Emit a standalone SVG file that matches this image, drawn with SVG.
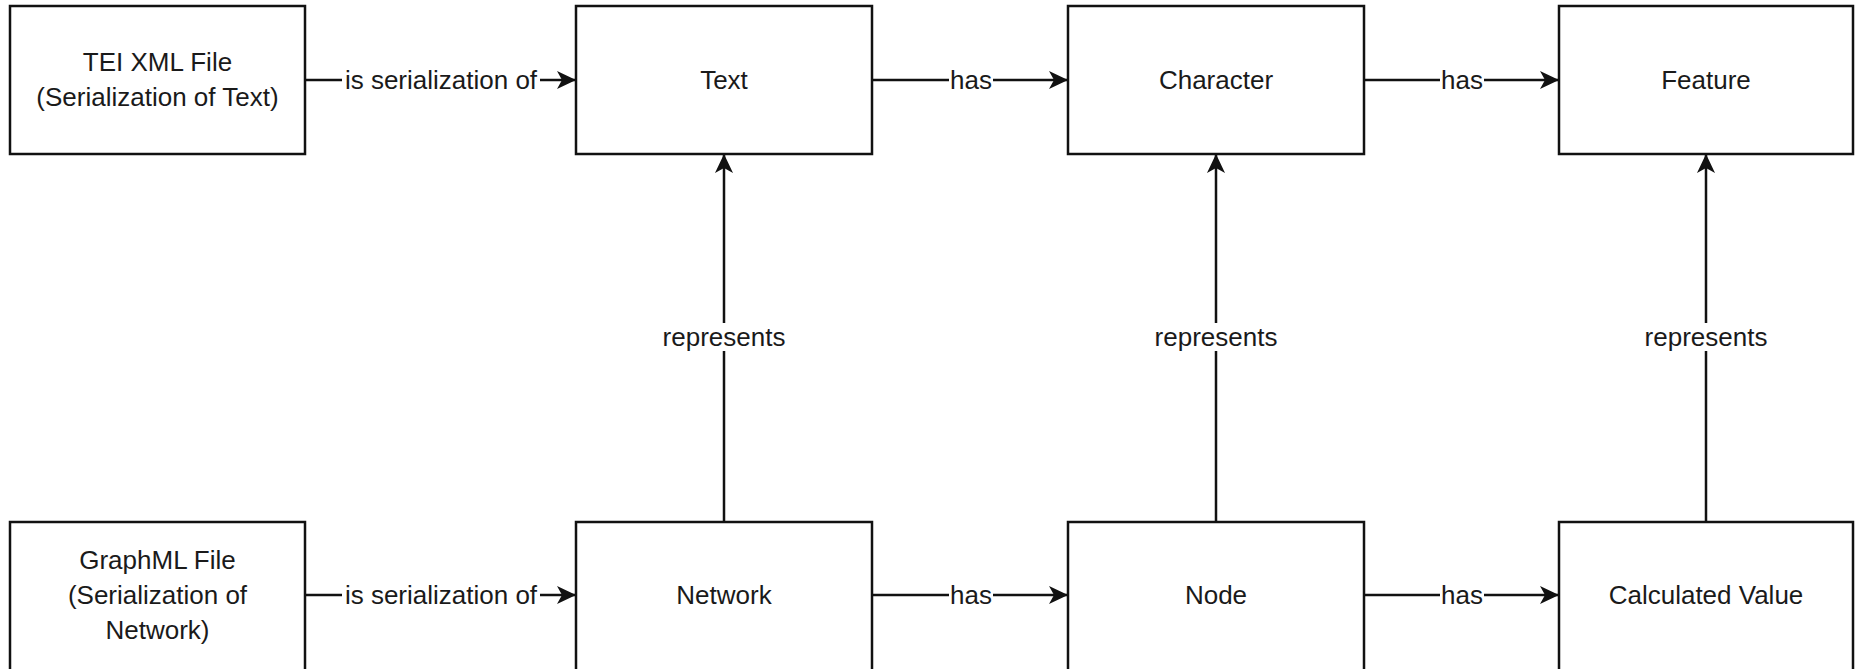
<svg xmlns="http://www.w3.org/2000/svg" width="1855" height="669" viewBox="0 0 1855 669">
<style>
.box{fill:#ffffff;stroke:#111111;stroke-width:2.5}
.t{font-family:"Liberation Sans",Arial,Helvetica,sans-serif;font-size:26px;fill:#1a1a1a;text-anchor:middle}
.edge{stroke:#111111;stroke-width:2.5;fill:none}
.lbg{fill:#ffffff}
</style>
<defs>
<marker id="arr" markerUnits="userSpaceOnUse" markerWidth="19" markerHeight="18" refX="18" refY="9" orient="auto">
<path d="M0,0 L19,9 L0,18 L5,9 Z" fill="#111111"/>
</marker>
</defs>
<rect width="1855" height="669" fill="#ffffff"/>
<g id="connectors">
<path class="edge" d="M305,80 L575,80" marker-end="url(#arr)"/>
<path class="edge" d="M872,80 L1067,80" marker-end="url(#arr)"/>
<path class="edge" d="M1364,80 L1558,80" marker-end="url(#arr)"/>
<path class="edge" d="M305,595 L575,595" marker-end="url(#arr)"/>
<path class="edge" d="M872,595 L1067,595" marker-end="url(#arr)"/>
<path class="edge" d="M1364,595 L1558,595" marker-end="url(#arr)"/>
<path class="edge" d="M724,522 L724,155" marker-end="url(#arr)"/>
<path class="edge" d="M1216,522 L1216,155" marker-end="url(#arr)"/>
<path class="edge" d="M1706,522 L1706,155" marker-end="url(#arr)"/>
<rect class="lbg" x="342" y="66" width="198" height="28"/>
<text class="t" x="441" y="89">is serialization of</text>
<rect class="lbg" x="949" y="66" width="44" height="28"/>
<text class="t" x="971" y="89">has</text>
<rect class="lbg" x="1440" y="66" width="44" height="28"/>
<text class="t" x="1462" y="89">has</text>
<rect class="lbg" x="342" y="581" width="198" height="28"/>
<text class="t" x="441" y="604">is serialization of</text>
<rect class="lbg" x="949" y="581" width="44" height="28"/>
<text class="t" x="971" y="604">has</text>
<rect class="lbg" x="1440" y="581" width="44" height="28"/>
<text class="t" x="1462" y="604">has</text>
<rect class="lbg" x="660" y="323" width="128" height="28"/>
<text class="t" x="724" y="346">represents</text>
<rect class="lbg" x="1152" y="323" width="128" height="28"/>
<text class="t" x="1216" y="346">represents</text>
<rect class="lbg" x="1642" y="323" width="128" height="28"/>
<text class="t" x="1706" y="346">represents</text>
</g>
<g id="tei">
<rect class="box" x="10" y="6" width="295" height="148"/>
<text class="t" x="157.5" y="71">TEI XML File</text>
<text class="t" x="157.5" y="106">(Serialization of Text)</text>
</g>
<g id="text">
<rect class="box" x="576" y="6" width="296" height="148"/>
<text class="t" x="724" y="89">Text</text>
</g>
<g id="character">
<rect class="box" x="1068" y="6" width="296" height="148"/>
<text class="t" x="1216" y="89">Character</text>
</g>
<g id="feature">
<rect class="box" x="1559" y="6" width="294" height="148"/>
<text class="t" x="1706" y="89">Feature</text>
</g>
<g id="graphml">
<rect class="box" x="10" y="522" width="295" height="150"/>
<text class="t" x="157.5" y="569">GraphML File</text>
<text class="t" x="157.5" y="604">(Serialization of</text>
<text class="t" x="157.5" y="639">Network)</text>
</g>
<g id="network">
<rect class="box" x="576" y="522" width="296" height="150"/>
<text class="t" x="724" y="604">Network</text>
</g>
<g id="node">
<rect class="box" x="1068" y="522" width="296" height="150"/>
<text class="t" x="1216" y="604">Node</text>
</g>
<g id="calculated">
<rect class="box" x="1559" y="522" width="294" height="150"/>
<text class="t" x="1706" y="604">Calculated Value</text>
</g>
</svg>
